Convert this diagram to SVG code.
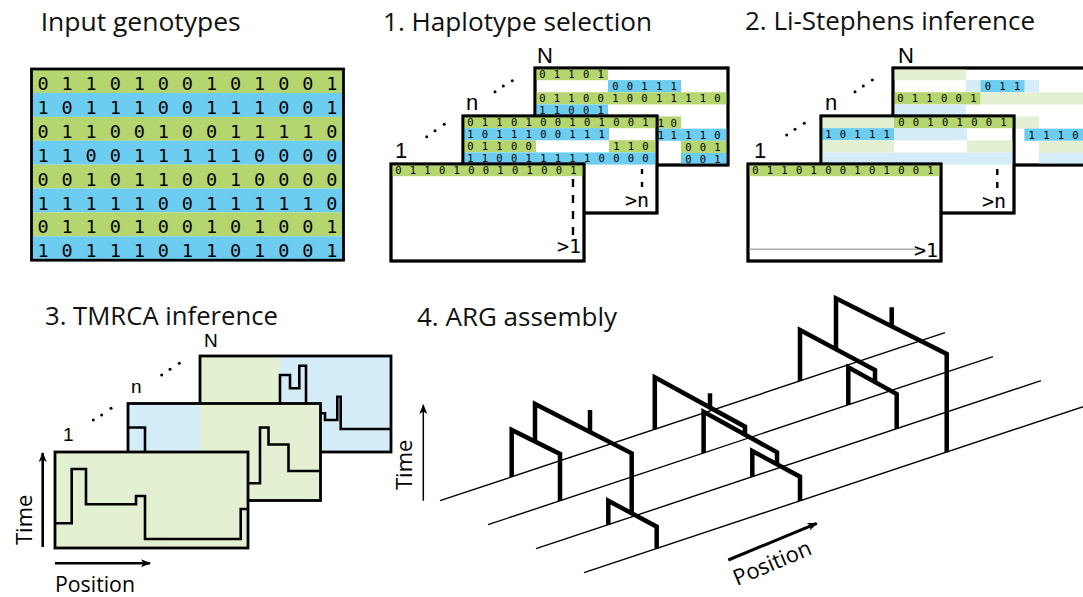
<svg xmlns="http://www.w3.org/2000/svg" width="1083" height="597" viewBox="0 0 1083 597">
<defs>
<style>
text{fill:#000}
.t{font-family:"Open Sans","Noto Sans",sans-serif;font-size:25px;fill:#111}
.m{font-family:"DejaVu Sans Mono",monospace;text-anchor:middle}
.mb{font-size:18.5px}
.ms{font-size:10.5px}
.gt{font-family:"DejaVu Sans Mono",monospace;font-size:20px;text-anchor:end}
.l{font-family:"Liberation Sans",Arial,sans-serif;font-size:22px}
.ls{font-size:19px}
.ax{font-family:"Open Sans","Noto Sans",sans-serif;font-size:22px}
.bx{fill:#fff;stroke:#000;stroke-width:2.8}
.fr{fill:none;stroke:#000;stroke-width:2.8}
.G{fill:#b5d56e}.B{fill:#6ccdf0}.g{fill:#e4f0d2}.b{fill:#d5ecf9}
.st{fill:none;stroke:#000;stroke-width:2.6;stroke-linejoin:miter}
.tr{fill:none;stroke:#000;stroke-width:4.5;stroke-linejoin:miter;stroke-linecap:butt}
.sq{fill:none;stroke:#000;stroke-width:1.4}
.dash{stroke:#000;stroke-width:2.4;fill:none}
.arr{stroke:#000;fill:none;marker-end:url(#ah)}
</style>
<marker id="ah" viewBox="0 0 10 10" refX="9" refY="5" markerWidth="10" markerHeight="10" markerUnits="userSpaceOnUse" orient="auto"><path d="M0,1 L10,5 L0,9 L2.5,5z" fill="#000"/></marker>
</defs>
<rect width="1083" height="597" fill="#fff"/>

<g id="input-genotypes">
<text class="t" x="40.7" y="30.7" font-size="28" textLength="200" lengthAdjust="spacingAndGlyphs">Input genotypes</text>
<rect class="G" x="31.5" y="69" width="312" height="24"/>
<rect class="B" x="31.5" y="92.9" width="312" height="24"/>
<rect class="G" x="31.5" y="116.8" width="312" height="24"/>
<rect class="B" x="31.5" y="140.7" width="312" height="24"/>
<rect class="G" x="31.5" y="164.6" width="312" height="24"/>
<rect class="B" x="31.5" y="188.5" width="312" height="24"/>
<rect class="G" x="31.5" y="212.4" width="312" height="24"/>
<rect class="B" x="31.5" y="236.3" width="312" height="23.9"/>
<rect class="fr" x="31.5" y="69" width="312" height="191.2" stroke-width="3"/>
<g class="m mb">
<text x="43 67.1 91.1 115.2 139.3 163.4 187.4 211.5 235.6 259.6 283.7 307.8 331.8" y="90">0110100101001</text>
<text x="43 67.1 91.1 115.2 139.3 163.4 187.4 211.5 235.6 259.6 283.7 307.8 331.8" y="113.9">1011100111001</text>
<text x="43 67.1 91.1 115.2 139.3 163.4 187.4 211.5 235.6 259.6 283.7 307.8 331.8" y="137.8">0110010011110</text>
<text x="43 67.1 91.1 115.2 139.3 163.4 187.4 211.5 235.6 259.6 283.7 307.8 331.8" y="161.7">1100111110000</text>
<text x="43 67.1 91.1 115.2 139.3 163.4 187.4 211.5 235.6 259.6 283.7 307.8 331.8" y="185.6">0010110010000</text>
<text x="43 67.1 91.1 115.2 139.3 163.4 187.4 211.5 235.6 259.6 283.7 307.8 331.8" y="209.5">1111100111110</text>
<text x="43 67.1 91.1 115.2 139.3 163.4 187.4 211.5 235.6 259.6 283.7 307.8 331.8" y="233.4">0110100101001</text>
<text x="43 67.1 91.1 115.2 139.3 163.4 187.4 211.5 235.6 259.6 283.7 307.8 331.8" y="257.3">1011101101001</text>
</g>
</g>

<g id="haplotype-selection">
<text class="t" x="383" y="30.7" textLength="269" lengthAdjust="spacingAndGlyphs">1. Haplotype selection</text>
<text class="l" x="537" y="63">N</text>
<text class="l" x="466" y="109.5">n</text>
<text class="l" x="395" y="157.5">1</text>
<g fill="#000"><circle cx="426.7" cy="136.7" r="1.5"/><circle cx="435" cy="130.7" r="1.5"/><circle cx="444.3" cy="124.3" r="1.5"/><circle cx="495" cy="91.7" r="1.5"/><circle cx="503.3" cy="86" r="1.5"/><circle cx="512.3" cy="80.7" r="1.5"/></g>
<g id="hap-N">
<rect class="bx" x="535" y="68" width="193" height="97"/>
<rect class="G" x="535" y="68" width="73" height="12.2"/>
<rect class="B" x="608" y="80.1" width="73" height="12.2"/>
<rect class="G" x="535" y="92.25" width="193" height="12.2"/>
<rect class="B" x="535" y="104.4" width="73" height="12.2"/>
<rect class="G" x="657" y="116.5" width="24" height="12.2"/>
<rect class="B" x="657" y="128.6" width="71" height="12.2"/>
<rect class="G" x="681" y="140.75" width="47" height="12.2"/>
<rect class="B" x="681" y="152.9" width="47" height="12.1"/>
<g class="m ms">
<text x="542.3 556.9 571.5 586.1 600.7" y="78">01101</text>
<text x="615.3 629.9 644.5 659.1 673.7" y="90.1">00111</text>
<text x="542.3 556.9 571.5 586.1 600.7 615.3 629.9 644.5 659.1 673.7 688.3 702.9 717.5" y="102.3">0110010011110</text>
<text x="542.3 556.9 571.5 586.1 600.7" y="114.4">11001</text>
<text x="661 673.7" y="126.5">10</text>
<text x="661 673.7 688.3 702.9 717.5" y="138.6">11110</text>
<text x="688.3 702.9 717.5" y="150.8">001</text>
<text x="688.3 702.9 717.5" y="162.9">001</text>
</g>
<rect class="fr" x="535" y="68" width="193" height="97"/>
</g>
<g id="hap-n">
<rect class="bx" x="463" y="116" width="194" height="97"/>
<rect class="G" x="463" y="116" width="194" height="12.2"/>
<rect class="B" x="463" y="128.1" width="146" height="12.2"/>
<rect class="G" x="463" y="140.25" width="73" height="12.2"/>
<rect class="G" x="609" y="140.25" width="48" height="12.2"/>
<rect class="B" x="463" y="152.4" width="194" height="12.2"/>
<g class="m ms">
<text x="470.3 484.9 499.5 514.1 528.7 543.3 557.9 572.5 587.1 601.7 616.3 630.9 645.5" y="126">0110100101001</text>
<text x="470.3 484.9 499.5 514.1 528.7 543.3 557.9 572.5 587.1 601.7" y="138.1">1011100111</text>
<text x="470.3 484.9 499.5 514.1 528.7" y="150.3">01100</text>
<text x="616.3 630.9 645.5" y="150.3">110</text>
<text x="470.3 484.9 499.5 514.1 528.7 543.3 557.9 572.5 587.1 601.7 616.3 630.9 645.5" y="162.4">1100111110000</text>
</g>
<rect class="fr" x="463" y="116" width="194" height="97"/>
<line class="dash" x1="642" y1="169" x2="642" y2="187" stroke-dasharray="5 8"/>
<text class="gt" x="649" y="207">&gt;n</text>
</g>
<g id="hap-1">
<rect class="bx" x="391" y="164" width="193" height="97"/>
<rect class="G" x="391" y="164" width="193" height="12.2"/>
<text class="m ms" x="398.3 412.9 427.5 442.1 456.7 471.3 485.9 500.5 515.1 529.7 544.3 558.9 573.5" y="174">0110100101001</text>
<rect class="fr" x="391" y="164" width="193" height="97"/>
<line class="dash" x1="573" y1="179" x2="573" y2="237" stroke-dasharray="8 8"/>
<text class="gt" x="581" y="253">&gt;1</text>
</g>
</g>

<g id="li-stephens">
<text class="t" x="745" y="30" font-size="26" textLength="290" lengthAdjust="spacingAndGlyphs">2. Li-Stephens inference</text>
<text class="l" x="898" y="63">N</text>
<text class="l" x="825" y="109.5">n</text>
<text class="l" x="754" y="158">1</text>
<g fill="#000"><circle cx="786.7" cy="135" r="1.5"/><circle cx="795" cy="129.3" r="1.5"/><circle cx="804.3" cy="123.3" r="1.5"/><circle cx="855" cy="91.7" r="1.5"/><circle cx="863.3" cy="86" r="1.5"/><circle cx="872.3" cy="80" r="1.5"/></g>
<g id="ls-N">
<rect class="bx" x="893" y="68" width="193" height="97"/>
<rect class="g" x="893" y="68" width="73" height="12.2"/>
<rect class="b" x="966" y="80.1" width="73" height="12.2"/>
<rect class="B" x="980.6" y="80.1" width="43.8" height="12.2"/>
<rect class="G" x="893" y="92.25" width="87.6" height="12.2"/>
<rect class="g" x="980.6" y="92.25" width="106" height="12.2"/>
<rect class="b" x="893" y="104.4" width="73" height="12.2"/>
<rect class="g" x="1014" y="116.5" width="25" height="12.2"/>
<rect class="B" x="1024.4" y="128.6" width="62" height="12.2"/>
<rect class="g" x="1039" y="140.75" width="47" height="12.2"/>
<rect class="b" x="1039" y="152.9" width="47" height="12.1"/>
<g class="m ms">
<text x="987.9 1002.5 1017.1" y="90.1">011</text>
<text x="900.3 914.9 929.5 944.1 958.7 973.3" y="102.3">011001</text>
<text x="1031.7 1046.3 1060.9 1075.5" y="138.6">1110</text>
</g>
<rect class="fr" x="893" y="68" width="193" height="97"/>
</g>
<g id="ls-n">
<rect class="bx" x="821" y="116" width="193" height="97"/>
<rect class="g" x="821" y="116" width="73" height="12.2"/>
<rect class="G" x="894" y="116" width="120" height="12.2"/>
<rect class="B" x="821" y="128.1" width="73" height="12.2"/>
<rect class="b" x="894" y="128.1" width="73" height="12.2"/>
<rect class="g" x="821" y="140.25" width="73" height="12.2"/>
<rect class="g" x="967" y="140.25" width="47" height="12.2"/>
<rect class="b" x="821" y="152.4" width="193" height="12.2"/>
<g class="m ms">
<text x="901.3 915.9 930.5 945.1 959.7 974.3 988.9 1003.5" y="126">00101001</text>
<text x="828.3 842.9 857.5 872.1 886.7" y="138.1">10111</text>
</g>
<rect class="fr" x="821" y="116" width="193" height="97"/>
<line class="dash" x1="997.3" y1="169" x2="997.3" y2="188" stroke-dasharray="6 7"/>
<text class="gt" x="1006" y="208">&gt;n</text>
</g>
<g id="ls-1">
<rect class="bx" x="748" y="164" width="193" height="97"/>
<rect class="G" x="748" y="164" width="193" height="12.2"/>
<text class="m ms" x="755.3 769.9 784.5 799.1 813.7 828.3 842.9 857.5 872.1 886.7 901.3 915.9 930.5" y="174">0110100101001</text>
<rect class="fr" x="748" y="164" width="193" height="97"/>
<line x1="749.5" y1="249.3" x2="925" y2="249.3" stroke="#b0b0b0" stroke-width="1.5"/>
<text class="gt" x="938" y="257">&gt;1</text>
</g>
</g>

<g id="tmrca">
<text class="t" x="45" y="325" textLength="233" lengthAdjust="spacingAndGlyphs">3. TMRCA inference</text>
<text class="l ls" x="204" y="347">N</text>
<text class="l ls" x="131" y="393">n</text>
<text class="l ls" x="63" y="441">1</text>
<g fill="#000"><circle cx="93.3" cy="420" r="1.5"/><circle cx="101.7" cy="415" r="1.5"/><circle cx="111" cy="408.3" r="1.5"/><circle cx="161.7" cy="375" r="1.5"/><circle cx="170" cy="369.3" r="1.5"/><circle cx="179.3" cy="363.3" r="1.5"/></g>
<g id="tm-N">
<rect class="g" x="200" y="356" width="80" height="96"/>
<rect class="b" x="280" y="356" width="111" height="96"/>
<rect class="fr" x="200" y="356" width="191" height="96" stroke-width="2.6"/>
<path class="st" d="M280,420 V375 H290 V388.3 H299.3 V365.7 H306 V420 H315 V413.3 H325 V420 H337.3 V396.7 H340.7 V429 H391"/>
</g>
<g id="tm-n">
<rect class="b" x="128" y="403.5" width="72" height="97"/>
<rect class="g" x="200" y="403.5" width="120.5" height="97"/>
<rect class="fr" x="128" y="403.5" width="192.5" height="97" stroke-width="2.6"/>
<path class="st" d="M128,427.5 H145 V470 H230 V483.3 H260 V427.5 H268.5 V444.5 H288.5 V471 H320.5"/>
</g>
<g id="tm-1">
<rect class="g" x="55" y="452" width="193" height="96"/>
<rect class="fr" x="55" y="452" width="193" height="96" stroke-width="2.6"/>
<path class="st" d="M55,523.3 H71.7 V469 H86 V504.3 H136 V496 H145 V539 H240.7 V509 H248"/>
</g>
<text class="ax" font-size="24" transform="translate(31.7,545) rotate(-90)">Time</text>
<text class="ax" x="55" y="592" textLength="80" lengthAdjust="spacingAndGlyphs">Position</text>
</g>

<g id="arg">
<text class="t" x="417" y="326" textLength="200" lengthAdjust="spacingAndGlyphs">4. ARG assembly</text>
<g id="sequences">
<line class="sq" x1="440" y1="500.7" x2="945" y2="332.7"/>
<line class="sq" x1="488" y1="524.7" x2="993" y2="356.7"/>
<line class="sq" x1="536" y1="548.7" x2="1041" y2="380.7"/>
<line class="sq" x1="584" y1="572.7" x2="1100" y2="401"/>
</g>
<g id="tree-1">
<path class="tr" d="M511.7,477 V430 L560,454 V501"/>
<path class="tr" d="M535,441.6 V404 L631.7,453.3 V513.3"/>
<path class="tr" d="M608.3,524.7 V500.7 L656.7,526.7 V548.6"/>
<path class="tr" d="M590,432 V410"/>
</g>
<g id="tree-2">
<path class="tr" d="M654.8,429.2 V377.3 L745,426.7 V434.6"/>
<path class="tr" d="M703.6,453 V411.7 L777,452.3 V464.2"/>
<path class="tr" d="M752.3,476.8 V451 L800,476.7 V500.9"/>
<path class="tr" d="M710,407.5 V393.3"/>
</g>
<g id="tree-3">
<path class="tr" d="M800,380.9 V330 L875,370 V382"/>
<path class="tr" d="M848.3,404.9 V367.3 L896.7,394 V428.8"/>
<path class="tr" d="M836,349.2 V298.3 L946.7,354 V452.3"/>
<path class="tr" d="M891.7,326.3 V307.3"/>
</g>
<text class="ax" font-size="24" transform="translate(412,490) rotate(-90)">Time</text>
<text class="ax" transform="translate(737,586) rotate(-23)">Position</text>
</g>

<g id="connectors">
<line class="arr" x1="42.7" y1="547" x2="42.7" y2="453" stroke-width="2.6"/>
<line class="arr" x1="55" y1="563.3" x2="150" y2="563.3" stroke-width="2.6"/>
<line class="arr" x1="423.3" y1="500.7" x2="423.3" y2="405" stroke-width="1.5"/>
<line class="arr" x1="728.3" y1="560" x2="816.7" y2="523.3" stroke-width="3"/>
</g>
</svg>
